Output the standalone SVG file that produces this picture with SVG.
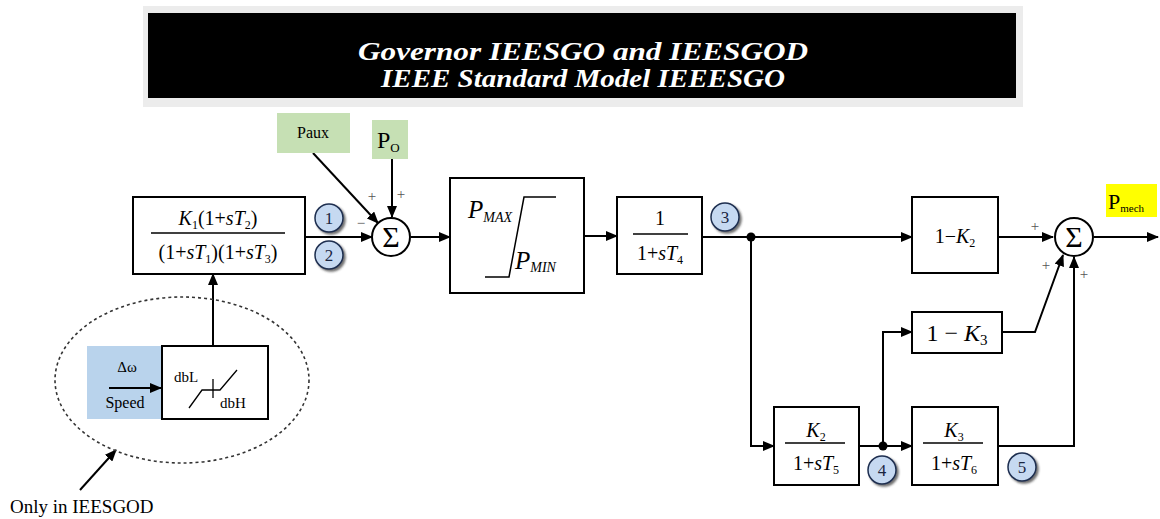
<svg xmlns="http://www.w3.org/2000/svg" width="1160" height="519" viewBox="0 0 1160 519" font-family="'Liberation Serif', 'DejaVu Serif', serif">
<defs>
<marker id="ah" markerWidth="12" markerHeight="10" refX="11" refY="5" orient="auto" markerUnits="userSpaceOnUse">
<path d="M0,0 L12,5 L0,10 Z" fill="#000"/>
</marker>
<filter id="sh" x="-30%" y="-30%" width="170%" height="170%">
<feDropShadow dx="2" dy="2" stdDeviation="1" flood-color="#333" flood-opacity="0.7"/>
</filter>
</defs>
<style>
text{font-family:'Liberation Serif','DejaVu Serif',serif;fill:#000}
.blk{fill:#fff;stroke:#000;stroke-width:2}
.ln{fill:none;stroke:#000;stroke-width:2}
.fr{stroke:#000;stroke-width:1.5}
.f{font-size:20px}
.i{font-style:italic}
.sub{font-size:12px}
.num{fill:#c6d9f1;stroke:#1f2f50;stroke-width:1.5;filter:url(#sh)}
.nt{font-size:17px;fill:#1a2540;text-anchor:middle}
.sum{fill:#fff;stroke:#000;stroke-width:2}
.sg{font-size:30px;text-anchor:middle}
.pm{font-size:15px;fill:#555;text-anchor:middle}
.ttl{font-size:25px;font-style:italic;font-weight:bold;fill:#fff;text-anchor:middle}
</style>
<rect width="1160" height="519" fill="#fff"/>

<g id="title">
<rect x="143" y="6" width="880" height="101" fill="#ececec"/>
<rect x="148" y="13" width="868" height="85" fill="#000"/>
<text class="ttl" x="583" y="60" textLength="450" lengthAdjust="spacingAndGlyphs">Governor IEESGO and IEESGOD</text>
<text class="ttl" x="583" y="87" textLength="404" lengthAdjust="spacingAndGlyphs">IEEE Standard Model IEEESGO</text>
</g>

<g id="connectors">
<line class="ln" x1="305" y1="237" x2="372" y2="237" marker-end="url(#ah)"/>
<line class="ln" x1="313" y1="153" x2="378" y2="223" marker-end="url(#ah)"/>
<line class="ln" x1="392" y1="159" x2="392" y2="217" marker-end="url(#ah)"/>
<line class="ln" x1="411" y1="237" x2="450" y2="237" marker-end="url(#ah)"/>
<line class="ln" x1="584" y1="236" x2="617" y2="236" marker-end="url(#ah)"/>
<line class="ln" x1="702" y1="237" x2="912" y2="237" marker-end="url(#ah)"/>
<line class="ln" x1="998" y1="237" x2="1053" y2="237" marker-end="url(#ah)"/>
<line class="ln" x1="1094" y1="237" x2="1158" y2="237" marker-end="url(#ah)"/>
<polyline class="ln" points="751,237 751,446 774,446" marker-end="url(#ah)"/>
<line class="ln" x1="859" y1="446" x2="912" y2="446" marker-end="url(#ah)"/>
<polyline class="ln" points="883,446 883,332 912,332" marker-end="url(#ah)"/>
<polyline class="ln" points="1002,332 1035,332 1063,255" marker-end="url(#ah)"/>
<polyline class="ln" points="998,446 1074,446 1074,257" marker-end="url(#ah)"/>
<line class="ln" x1="213" y1="346" x2="213" y2="274" marker-end="url(#ah)"/>
<line class="ln" x1="80" y1="490" x2="116" y2="450" marker-end="url(#ah)"/>
<circle cx="751" cy="237" r="4.5" fill="#000"/>
<circle cx="883" cy="446" r="4.5" fill="#000"/>
</g>

<g id="onlyIEESGOD">
<ellipse cx="182" cy="380" rx="127" ry="83" fill="none" stroke="#333" stroke-width="1.6" stroke-dasharray="3,3"/>
<text x="10" y="513" font-size="19">Only in IEESGOD</text>
</g>

<g id="speed">
<rect x="87" y="346" width="75" height="73" fill="#b9d3ec"/>
<text x="127" y="372" font-size="15" text-anchor="middle">Δω</text>
<line class="ln" x1="109" y1="388" x2="161" y2="388" stroke-width="1.5" marker-end="url(#ah)"/>
<text x="125" y="408" font-size="16" text-anchor="middle">Speed</text>
</g>

<g id="deadband">
<rect class="blk" x="162" y="346" width="106" height="73"/>
<text x="174" y="382" font-size="15">dbL</text>
<text x="220" y="408" font-size="15">dbH</text>
<polyline fill="none" stroke="#000" stroke-width="1.3" points="189,408 202,390 220,390 237,370"/>
<line x1="213" y1="379" x2="213" y2="398" stroke="#000" stroke-width="1.3"/>
</g>

<g id="leadlag">
<rect class="blk" x="133" y="197" width="172" height="77"/>
<text class="f" x="218" y="225" text-anchor="middle"><tspan class="i">K</tspan><tspan class="sub" dy="4">1</tspan><tspan dy="-4">(1+</tspan><tspan class="i">sT</tspan><tspan class="sub" dy="4">2</tspan><tspan dy="-4">)</tspan></text>
<line class="fr" x1="151" y1="233" x2="285" y2="233"/>
<text class="f" x="218" y="259" text-anchor="middle">(1+<tspan class="i">sT</tspan><tspan class="sub" dy="4">1</tspan><tspan dy="-4">)(1+</tspan><tspan class="i">sT</tspan><tspan class="sub" dy="4">3</tspan><tspan dy="-4">)</tspan></text>
</g>

<g id="n1"><circle class="num" cx="329" cy="218" r="14"/><text class="nt" x="329" y="224">1</text></g>
<g id="n2"><circle class="num" cx="329" cy="255" r="14"/><text class="nt" x="329" y="261">2</text></g>

<g id="paux">
<rect x="277" y="113" width="73" height="40" fill="#c6e0b4"/>
<text x="313" y="138" font-size="16" text-anchor="middle">Paux</text>
</g>
<g id="po">
<rect x="372" y="120" width="36" height="39" fill="#c6e0b4"/>
<text x="377" y="148" font-size="24">P<tspan font-size="13" dy="4">O</tspan></text>
</g>

<g id="sum1">
<circle class="sum" cx="391" cy="237" r="19"/>
<text class="sg" x="391" y="247">Σ</text>
<text class="pm" x="372" y="201">+</text>
<text class="pm" x="401" y="199">+</text>
<text class="pm" x="361" y="228">−</text>
</g>

<g id="limiter">
<rect class="blk" x="450" y="178" width="134" height="115"/>
<polyline fill="none" stroke="#000" stroke-width="1.5" points="485,277 509,277 524,197 556,197"/>
<text x="468" y="218" font-size="25" font-style="italic">P<tspan font-size="14" dy="4">MAX</tspan></text>
<text x="515" y="269" font-size="25" font-style="italic">P<tspan font-size="14" dy="3">MIN</tspan></text>
</g>

<g id="lag4">
<rect class="blk" x="617" y="197" width="85" height="77"/>
<text class="f" x="660" y="225" text-anchor="middle">1</text>
<line class="fr" x1="633" y1="234" x2="688" y2="234"/>
<text class="f" x="660" y="260" text-anchor="middle">1+<tspan class="i">sT</tspan><tspan class="sub" dy="4">4</tspan></text>
</g>
<g id="n3"><circle class="num" cx="725" cy="217" r="14"/><text class="nt" x="725" y="223">3</text></g>

<g id="k2gain">
<rect class="blk" x="912" y="197" width="86" height="76"/>
<text class="f" x="955" y="243" text-anchor="middle">1−<tspan class="i">K</tspan><tspan class="sub" dy="4">2</tspan></text>
</g>

<g id="k3gain">
<rect class="blk" x="912" y="312" width="90" height="41"/>
<text x="957" y="341" font-size="24" text-anchor="middle">1 − <tspan font-style="italic">K</tspan><tspan font-size="15" dy="4">3</tspan></text>
</g>

<g id="lag5">
<rect class="blk" x="774" y="407" width="85" height="78"/>
<text class="f" x="816" y="437" text-anchor="middle"><tspan class="i">K</tspan><tspan class="sub" dy="4">2</tspan></text>
<line class="fr" x1="785" y1="443" x2="845" y2="443"/>
<text class="f" x="816" y="470" text-anchor="middle">1+<tspan class="i">sT</tspan><tspan class="sub" dy="4">5</tspan></text>
</g>
<g id="n4"><circle class="num" cx="882" cy="470" r="14"/><text class="nt" x="882" y="476">4</text></g>

<g id="lag6">
<rect class="blk" x="912" y="407" width="86" height="78"/>
<text class="f" x="954" y="437" text-anchor="middle"><tspan class="i">K</tspan><tspan class="sub" dy="4">3</tspan></text>
<line class="fr" x1="923" y1="443" x2="983" y2="443"/>
<text class="f" x="954" y="470" text-anchor="middle">1+<tspan class="i">sT</tspan><tspan class="sub" dy="4">6</tspan></text>
</g>
<g id="n5"><circle class="num" cx="1022" cy="467" r="14"/><text class="nt" x="1022" y="473">5</text></g>

<g id="sum2">
<circle class="sum" cx="1074" cy="237" r="19"/>
<text class="sg" x="1074" y="247">Σ</text>
<text class="pm" x="1035" y="231">+</text>
<text class="pm" x="1046" y="270">+</text>
<text class="pm" x="1084" y="279">+</text>
</g>

<g id="pmech">
<rect x="1106" y="184" width="51" height="33" fill="#ffff00"/>
<text x="1108" y="209" font-size="22">P<tspan font-size="11" dy="3">mech</tspan></text>
</g>
</svg>
